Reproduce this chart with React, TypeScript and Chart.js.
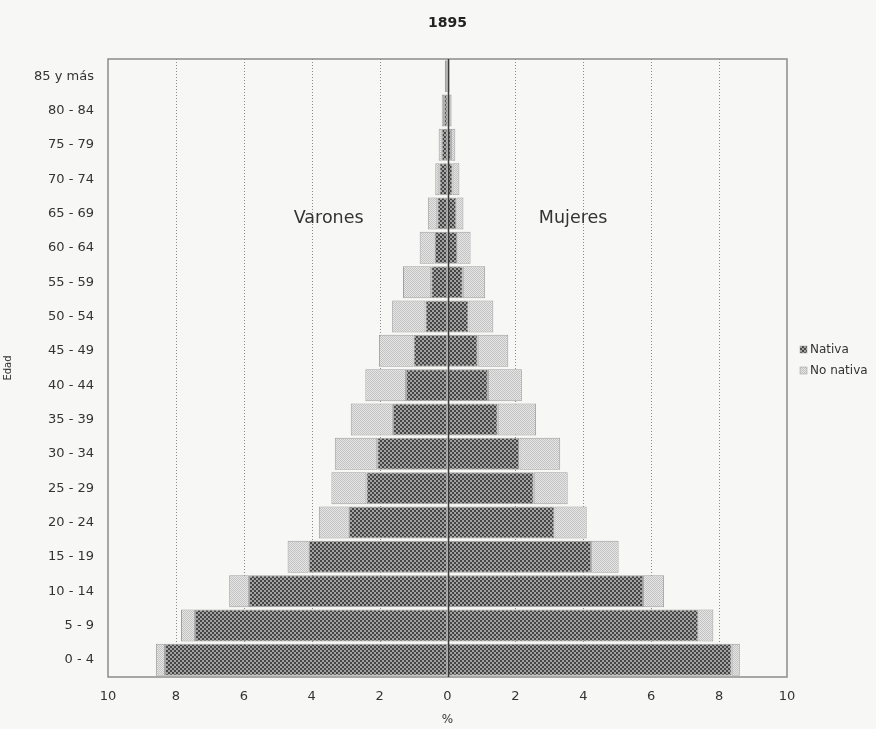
import React, { useEffect, useRef } from "react";
import { Chart, registerables } from "chart.js";

Chart.register(...registerables);

const TITLE = "1895";
const X_TITLE = "%";
const Y_TITLE = "Edad";
const LEFT_LABEL = "Varones";
const RIGHT_LABEL = "Mujeres";
const SERIES_NAMES = ["Nativa", "No nativa"];

const AGE_GROUPS = [
  "0 - 4", "5 - 9", "10 - 14", "15 - 19", "20 - 24", "25 - 29", "30 - 34",
  "35 - 39", "40 - 44", "45 - 49", "50 - 54", "55 - 59", "60 - 64", "65 - 69",
  "70 - 74", "75 - 79", "80 - 84", "85 y más",
];

// Percent of total population (men shown to the left)
const MALE_NATIVE = [8.32, 7.44, 5.85, 4.09, 2.91, 2.39, 2.07, 1.61, 1.22, 1.0, 0.65, 0.48, 0.38, 0.3, 0.24, 0.17, 0.1, 0.04];
const MALE_NON_NATIVE = [0.27, 0.41, 0.58, 0.62, 0.88, 1.03, 1.25, 1.24, 1.2, 1.02, 0.98, 0.83, 0.44, 0.28, 0.12, 0.09, 0.07, 0.04];
const FEMALE_NATIVE = [8.37, 7.39, 5.76, 4.23, 3.15, 2.54, 2.12, 1.48, 1.19, 0.89, 0.62, 0.45, 0.29, 0.26, 0.15, 0.1, 0.05, 0.03];
const FEMALE_NON_NATIVE = [0.24, 0.44, 0.62, 0.81, 0.95, 1.0, 1.2, 1.13, 1.0, 0.9, 0.73, 0.66, 0.39, 0.21, 0.2, 0.13, 0.07, 0.03];

const X_MIN = -10;
const X_MAX = 10;
const X_STEP = 2;

const FONT = "'DejaVu Sans', 'Liberation Sans', sans-serif";
const BG = "#f7f7f5";

function makePattern(base: string, dot: string, cell: number): CanvasPattern | string {
  const c = document.createElement("canvas");
  c.width = cell * 2;
  c.height = cell * 2;
  const g = c.getContext("2d");
  if (!g) return base;
  g.fillStyle = base;
  g.fillRect(0, 0, cell * 2, cell * 2);
  g.fillStyle = dot;
  g.fillRect(0, 0, cell, cell);
  g.fillRect(cell, cell, cell, cell);
  return g.createPattern(c, "repeat") || base;
}

export default function App() {
  const canvasRef = useRef<HTMLCanvasElement | null>(null);

  useEffect(() => {
    document.body.style.margin = "0";
    document.body.style.background = BG;
    const canvas = canvasRef.current;
    if (!canvas) return;

    const darkFill = makePattern("#a2a2a2", "#454545", 2);
    const lightFill = makePattern("#e6e6e6", "#c2c2c2", 1);

    const decorations = {
      id: "decorations",
      beforeDraw(chart: any) {
        const ctx = chart.ctx;
        ctx.save();
        ctx.fillStyle = BG;
        ctx.fillRect(0, 0, chart.width, chart.height);
        ctx.restore();
      },
      beforeDatasetsDraw(chart: any) {
        const ctx = chart.ctx;
        const area = chart.chartArea;
        const xs = chart.scales.x;
        ctx.save();
        ctx.strokeStyle = "#8a8a8a";
        ctx.lineWidth = 1;
        ctx.setLineDash([1, 2]);
        xs.ticks.forEach((t: any) => {
          if (t.value === 0 || t.value === X_MIN || t.value === X_MAX) return;
          const x = Math.round(xs.getPixelForValue(t.value)) + 0.5;
          ctx.beginPath();
          ctx.moveTo(x, area.top);
          ctx.lineTo(x, area.bottom);
          ctx.stroke();
        });
        ctx.restore();
      },
      afterDatasetsDraw(chart: any) {
        const ctx = chart.ctx;
        const area = chart.chartArea;
        const xs = chart.scales.x;
        const ys = chart.scales.y;
        ctx.save();
        // frame
        ctx.strokeStyle = "#8c8c8c";
        ctx.lineWidth = 1.5;
        ctx.strokeRect(area.left, area.top, area.right - area.left, area.bottom - area.top);
        // zero line
        const x0 = Math.round(xs.getPixelForValue(0)) + 0.5;
        ctx.strokeStyle = "#3a3a3a";
        ctx.lineWidth = 1.5;
        ctx.beginPath();
        ctx.moveTo(x0, area.top);
        ctx.lineTo(x0, area.bottom);
        ctx.stroke();

        // title
        ctx.fillStyle = "#222";
        ctx.textAlign = "center";
        ctx.textBaseline = "middle";
        ctx.font = `bold 14px ${FONT}`;
        ctx.fillText(TITLE, xs.getPixelForValue(0), 23);

        // side labels
        ctx.font = `17.5px ${FONT}`;
        ctx.fillStyle = "#333";
        const yLab = ys.getPixelForValue(AGE_GROUPS.indexOf("65 - 69")) + 5;
        ctx.fillText(LEFT_LABEL, xs.getPixelForValue(-3.5), yLab);
        ctx.fillText(RIGHT_LABEL, xs.getPixelForValue(3.7), yLab);

        // legend
        const fills = [darkFill, lightFill];
        ctx.font = `12px ${FONT}`;
        ctx.textAlign = "left";
        SERIES_NAMES.forEach((name, i) => {
          const cy = 350 + i * 21;
          ctx.fillStyle = fills[i] as any;
          ctx.fillRect(800, cy - 4, 7, 7);
          ctx.strokeStyle = "#999";
          ctx.lineWidth = 0.5;
          ctx.strokeRect(800, cy - 4, 7, 7);
          ctx.fillStyle = "#333";
          ctx.fillText(name, 810, cy);
        });
        ctx.restore();
      },
    };

    const chart = new Chart(canvas, {
      type: "bar",
      data: {
        labels: AGE_GROUPS,
        datasets: [
          {
            label: SERIES_NAMES[0] + " varones",
            data: MALE_NATIVE.map((v) => -v),
            backgroundColor: darkFill as any,
          },
          {
            label: SERIES_NAMES[1] + " varones",
            data: MALE_NON_NATIVE.map((v) => -v),
            backgroundColor: lightFill as any,
          },
          {
            label: SERIES_NAMES[0] + " mujeres",
            data: FEMALE_NATIVE,
            backgroundColor: darkFill as any,
          },
          {
            label: SERIES_NAMES[1] + " mujeres",
            data: FEMALE_NON_NATIVE,
            backgroundColor: lightFill as any,
          },
        ].map((d) => ({
          ...d,
          borderColor: "#a0a0a0",
          borderWidth: 1,
          borderSkipped: false,
          barPercentage: 0.93,
          categoryPercentage: 1,
        })),
      },
      options: {
        indexAxis: "y",
        responsive: false,
        animation: false,
        layout: { padding: { top: 59, right: 89, left: 0, bottom: 0 } },
        plugins: {
          legend: { display: false },
          title: { display: false },
          tooltip: { enabled: false },
        },
        scales: {
          x: {
            type: "linear",
            stacked: true,
            min: X_MIN,
            max: X_MAX,
            afterFit: (s: any) => {
              s.height = 52;
            },
            ticks: {
              stepSize: X_STEP,
              padding: 12,
              color: "#333",
              font: { family: FONT, size: 13 },
              callback: (v: any) => String(Math.abs(Number(v))),
            },
            grid: { display: false, drawTicks: false },
            border: { display: false },
            title: {
              display: true,
              text: X_TITLE,
              color: "#333",
              font: { family: FONT, size: 12 },
              padding: { top: 0, bottom: 2 },
            },
          },
          y: {
            type: "category",
            stacked: true,
            reverse: true,
            afterFit: (s: any) => {
              s.width = 108;
            },
            ticks: {
              padding: 14,
              color: "#333",
              font: { family: FONT, size: 13 },
              autoSkip: false,
            },
            grid: { display: false, drawTicks: false },
            border: { display: false },
            title: {
              display: true,
              text: Y_TITLE,
              color: "#333",
              font: { family: FONT, size: 10 },
              padding: { top: 2, bottom: 0 },
            },
          },
        },
      },
      plugins: [decorations],
    } as any);

    return () => chart.destroy();
  }, []);

  return (
    <div style={{ width: 876, height: 729, background: BG }}>
      <canvas ref={canvasRef} width={876} height={729} style={{ display: "block" }} />
    </div>
  );
}
